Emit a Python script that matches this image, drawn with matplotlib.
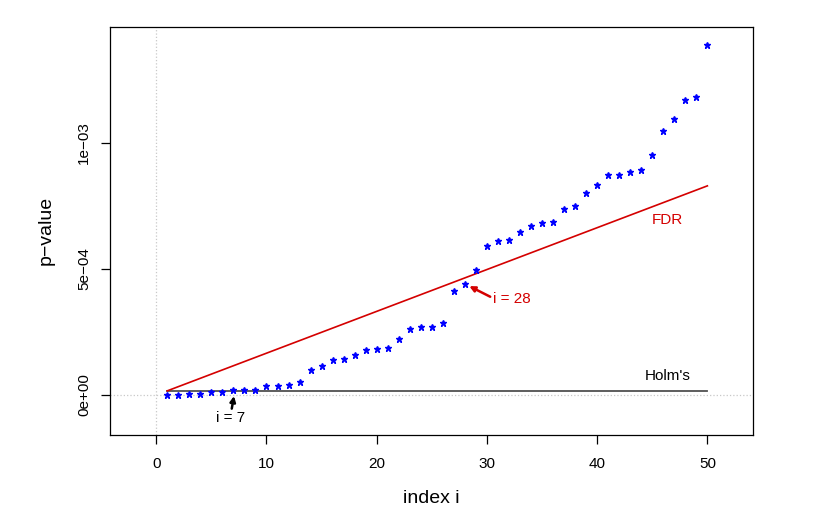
import numpy as np
import matplotlib.pyplot as plt

plt.rcParams['font.family'] = ['Liberation Sans', 'DejaVu Sans']

# sorted p-values
idx = np.arange(1, 51)
pvals = np.array([0.0, 0.0, 0.4, 0.4, 1.07, 1.3, 1.85, 1.85, 1.85, 3.4,
                  3.4, 3.8, 5.3, 9.8, 11.4, 14.0, 14.4, 15.9, 17.9, 18.4,
                  18.8, 22.1, 26.2, 27.0, 27.0, 28.7, 41.1, 43.9, 49.5, 59.1,
                  61.1, 61.5, 64.6, 67.1, 68.3, 68.5, 73.8, 75.0, 80.2, 83.2,
                  87.3, 87.3, 88.4, 89.2, 95.1, 104.9, 109.7, 116.9, 118.4, 139.0]) * 1e-5

holm_level = 1.7e-5
fdr_step = 1.66e-5  # FDR line slope per index

fig = plt.figure(figsize=(8.2, 5.15), dpi=100)
ax = fig.add_axes([0.1341, 0.1553, 0.9187 - 0.1341, 0.9485 - 0.1553])

# reference lines
ax.axvline(0, color='#c8c8c8', linestyle=':', lw=0.9, zorder=0)
ax.axhline(0, color='#c8c8c8', linestyle=':', lw=0.9, zorder=0)

ax.plot([1, 50], [holm_level, holm_level], color='#505050', lw=1.3)
ax.plot([1, 50], [fdr_step * 1, fdr_step * 50], color='#d40000', lw=1.2)

ax.plot(idx, pvals, linestyle='none', marker='*', color='blue', markersize=4.5)

ax.text(46.4, 6.94e-4, 'FDR', color='#d40000', fontsize=11, ha='center', va='center')
ax.text(46.4, 7.5e-5, "Holm's", color='black', fontsize=11, ha='center', va='center')

# arrows drawn separately from their labels
ax.text(6.7, -9.1e-5, 'i = 7', fontsize=11, ha='center', va='center')
ax.annotate('', xy=(7.05, -4e-6), xytext=(6.85, -5.4e-5),
            arrowprops=dict(arrowstyle='-|>', color='black', lw=1.8,
                            shrinkA=0, shrinkB=0, mutation_scale=8))
ax.text(30.55, 3.81e-4, 'i = 28', fontsize=11, color='#d40000', ha='left', va='center')
ax.annotate('', xy=(28.4, 4.32e-4), xytext=(30.3, 3.9e-4),
            arrowprops=dict(arrowstyle='-|>', color='#d40000', lw=1.8,
                            shrinkA=0, shrinkB=0, mutation_scale=8))

ax.set_xlim(-4.2, 54.17)
ax.set_ylim(-1.587e-4, 1.4623e-3)
ax.set_xticks([0, 10, 20, 30, 40, 50])
ax.set_yticks([0, 5e-4, 1e-3])
ax.set_yticklabels(['0e+00', '5e\u221204', '1e\u221203'], rotation=90, va='center')
ax.tick_params(direction='out', length=6.5, width=0.9, labelsize=11, pad=7)
ax.tick_params(axis='x', pad=9)
for s in ax.spines.values():
    s.set_linewidth(0.9)

ax.set_xlabel('index i', fontsize=14, labelpad=14)
ax.set_ylabel('p\u2212value', fontsize=14, labelpad=16)

fig.savefig('out.png', dpi=100)
